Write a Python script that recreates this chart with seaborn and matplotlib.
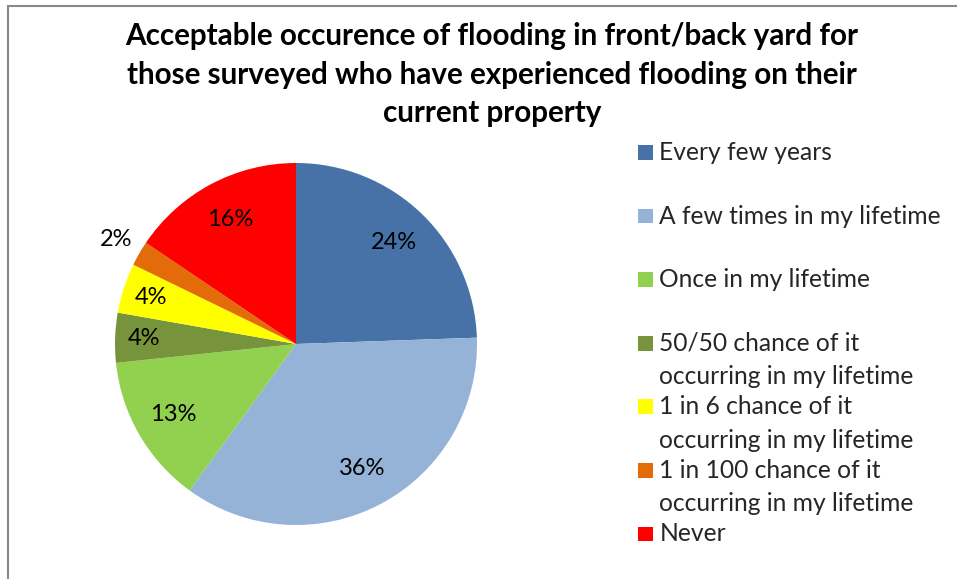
import matplotlib
matplotlib.use("Agg")
import matplotlib.pyplot as plt
import numpy as np
import seaborn as sns
from matplotlib.patches import Rectangle, Wedge
from matplotlib.legend_handler import HandlerPatch

# data (45 respondents)
categories = ["Every few years",
              "A few times in my lifetime",
              "Once in my lifetime",
              "50/50 chance of it\noccurring in my lifetime",
              "1 in 6 chance of it\noccurring in my lifetime",
              "1 in 100 chance of it\noccurring in my lifetime",
              "Never"]
counts = [11, 16, 6, 2, 2, 1, 7]
colors = ["#4672A8", "#95B3D7", "#92D050", "#77933C", "#FFFF00", "#E36C09", "#FF0000"]
title = ("Acceptable occurence of flooding in front/back yard for\n"
         "those surveyed who have experienced flooding on their\n"
         "current property")

sns.set_theme(style="white")
plt.rcParams['font.family'] = ['Lato', 'DejaVu Sans']

W, H, DPI = 957, 579, 100
fig = plt.figure(figsize=(W / DPI, H / DPI), dpi=DPI)

# pie centre and radius in pixels
cx, cy, r = 296, 344, 181
ax = fig.add_axes([(cx - r) / W, (H - cy - r) / H, 2 * r / W, 2 * r / H])
wedges, texts, autotexts = ax.pie(counts, colors=colors, startangle=90, counterclock=False,
                                  autopct='%.0f%%', pctdistance=0.78,
                                  wedgeprops=dict(linewidth=0),
                                  textprops=dict(fontsize=17, color='black'))
ax.set_xlim(-1, 1)
ax.set_ylim(-1, 1)

# excel-like "best fit": tiny slices get the label outside
total = sum(counts)
for w, t, c in zip(wedges, autotexts, counts):
    share = c / total
    d = 0.78
    if share < 0.03:
        d = 1.15
    elif share < 0.06:
        d = 0.84
    ang = np.deg2rad((w.theta1 + w.theta2) / 2)
    t.set_position((d * np.cos(ang), d * np.sin(ang)))

# legend: every entry takes two lines, marker next to the first line
leg_fs = 17.7
side = 10.6          # marker side, points
marker_mid = 18.3    # marker centre above the text baseline, points


def first_line_box(legend, orig_handle, xdescent, ydescent, width, height, fontsize):
    return Rectangle((-xdescent, -ydescent + marker_mid - side / 2), side, side)


labels = [c if "\n" in c else c + "\n " for c in categories]
leg = fig.legend(wedges, labels, loc='upper left', bbox_to_anchor=(638 / W, 1 - 141 / H),
                 frameon=False, borderpad=0, borderaxespad=0, labelspacing=0.29,
                 handlelength=0.6, handleheight=0.6, handletextpad=0.27,
                 prop=dict(size=leg_fs),
                 handler_map={Wedge: HandlerPatch(patch_func=first_line_box)})
for t in leg.get_texts():
    t.set_linespacing(1.55)

fig.text(492 / W, 1 - 22 / H, title, ha='center', va='top', fontsize=21.3,
         fontweight='bold', linespacing=1.46, color='black')

# chart area border (only left and top edges visible in the crop)
fig.add_artist(Rectangle((8 / W, -0.1), 1.2, 0.1 + (H - 6) / H, transform=fig.transFigure,
                         fill=False, ec='#888888', lw=1.5))

fig.savefig('out.png', dpi=DPI)
